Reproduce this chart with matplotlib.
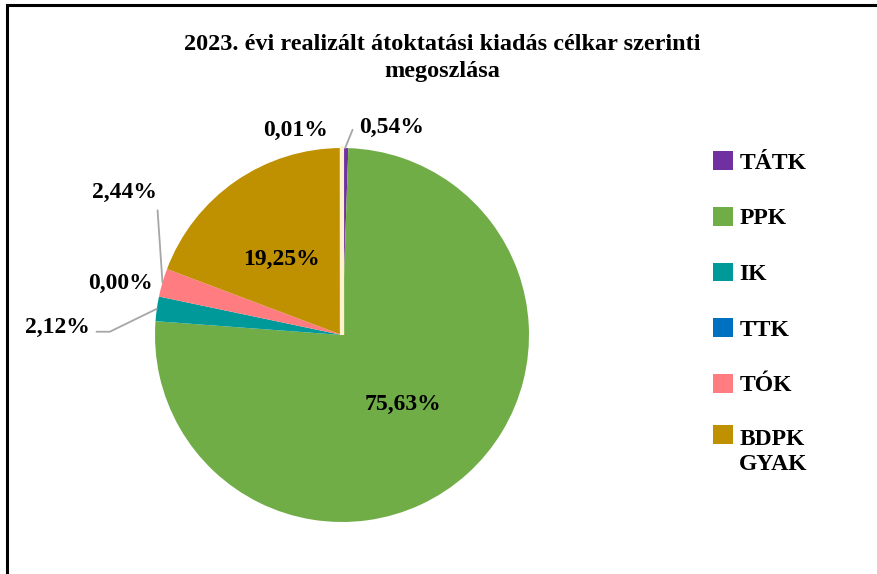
import matplotlib
matplotlib.use("Agg")
import matplotlib.pyplot as plt
from matplotlib.patches import Rectangle
import numpy as np

plt.rcParams['font.family'] = ['Liberation Serif', 'DejaVu Serif']
plt.rcParams['font.weight'] = 'bold'

title = "2023. évi realizált átoktatási kiadás célkar szerinti\nmegoszlása"
categories = ["TÁTK", "PPK", "IK", "TTK", "TÓK", "BDPK\nGYAK", "egyéb"]
shares = [0.54, 75.63, 2.12, 0.00, 2.44, 19.25, 0.01]
colors = ["#7030A0", "#70AD47", "#009999", "#0070C0", "#FF7C80", "#BF9000", "#FFF2CC"]

# label placement (pie units, centre = 0,0, radius = 1)
label_pos = {
    0: (0.09, 1.11),
    1: (0.326, -0.374),
    2: (-1.35, 0.04),
    3: (-1.182, 0.278),
    4: (-0.99, 0.76),
    5: (-0.321, 0.406),
    6: (-0.251, 1.096),
}
leader = {0: "angle,angleA=0,angleB=68", 2: "angle,angleA=0,angleB=26", 4: "arc3"}
fs = 17

fig = plt.figure(figsize=(8.78, 5.74), dpi=100)
W, H = 878, 574
cx, cy, r = 342, 335, 187
a = 1.5
side = 2 * a * r
ax = fig.add_axes([(cx - side / 2) / W, (H - cy - side / 2) / H, side / W, side / H])

wedges, _ = ax.pie(shares, colors=colors, startangle=90, counterclock=False,
                   radius=1, wedgeprops=dict(linewidth=0))
# the tiny last slice is barely a line, give it a visible edge
wedges[6].set_edgecolor(colors[6])
wedges[6].set_linewidth(3)

ax.set_xlim(-a, a)
ax.set_ylim(-a, a)
ax.set_aspect('equal')
ax.axis('off')

for i, w in enumerate(wedges):
    txt = f"{shares[i]:.2f}%".replace(".", ",")
    tx, ty = label_pos[i]
    if i in leader:
        ang = np.radians((w.theta1 + w.theta2) / 2)
        xy = (np.cos(ang), np.sin(ang))
        ha = 'left' if i == 0 else 'right'
        relpos = {0: (0.5, 0.5), 2: (1, 0.3), 4: (1, 0.15)}[i]
        ax.annotate(txt, xy=xy, xytext=(tx, ty), ha=ha, va='center',
                    fontsize=fs, fontweight='bold',
                    arrowprops=dict(arrowstyle='-', color='#A6A6A6', lw=1.3,
                                    connectionstyle=leader[i], relpos=relpos,
                                    shrinkA=3, shrinkB=0))
    else:
        ax.text(tx, ty, txt, ha='center', va='center', fontsize=fs, fontweight='bold')

fig.text(442 / W, 1 - 58 / H, title, ha='center', va='center', fontsize=17.5,
         fontweight='bold', linespacing=1.35)

leg = fig.legend(wedges[:6], categories[:6], loc='upper left',
                 bbox_to_anchor=(692 / W, 1 - 130 / H), frameon=False,
                 prop=dict(size=fs, weight='bold'), handlelength=0.85, handleheight=0.85,
                 handletextpad=0.25, labelspacing=1.4)
# keep the marker of the two-line label level with its first line
leg.legend_handles[5].set_y(leg.legend_handles[5].get_y() + 0.6 * fs * 1.2)

fig.patches.append(Rectangle((7 / W, -0.2), 1.2, 1.2 - 5 / H, transform=fig.transFigure,
                             fill=False, edgecolor='black', linewidth=2.2, clip_on=False))

fig.savefig("out.png", dpi=100)
